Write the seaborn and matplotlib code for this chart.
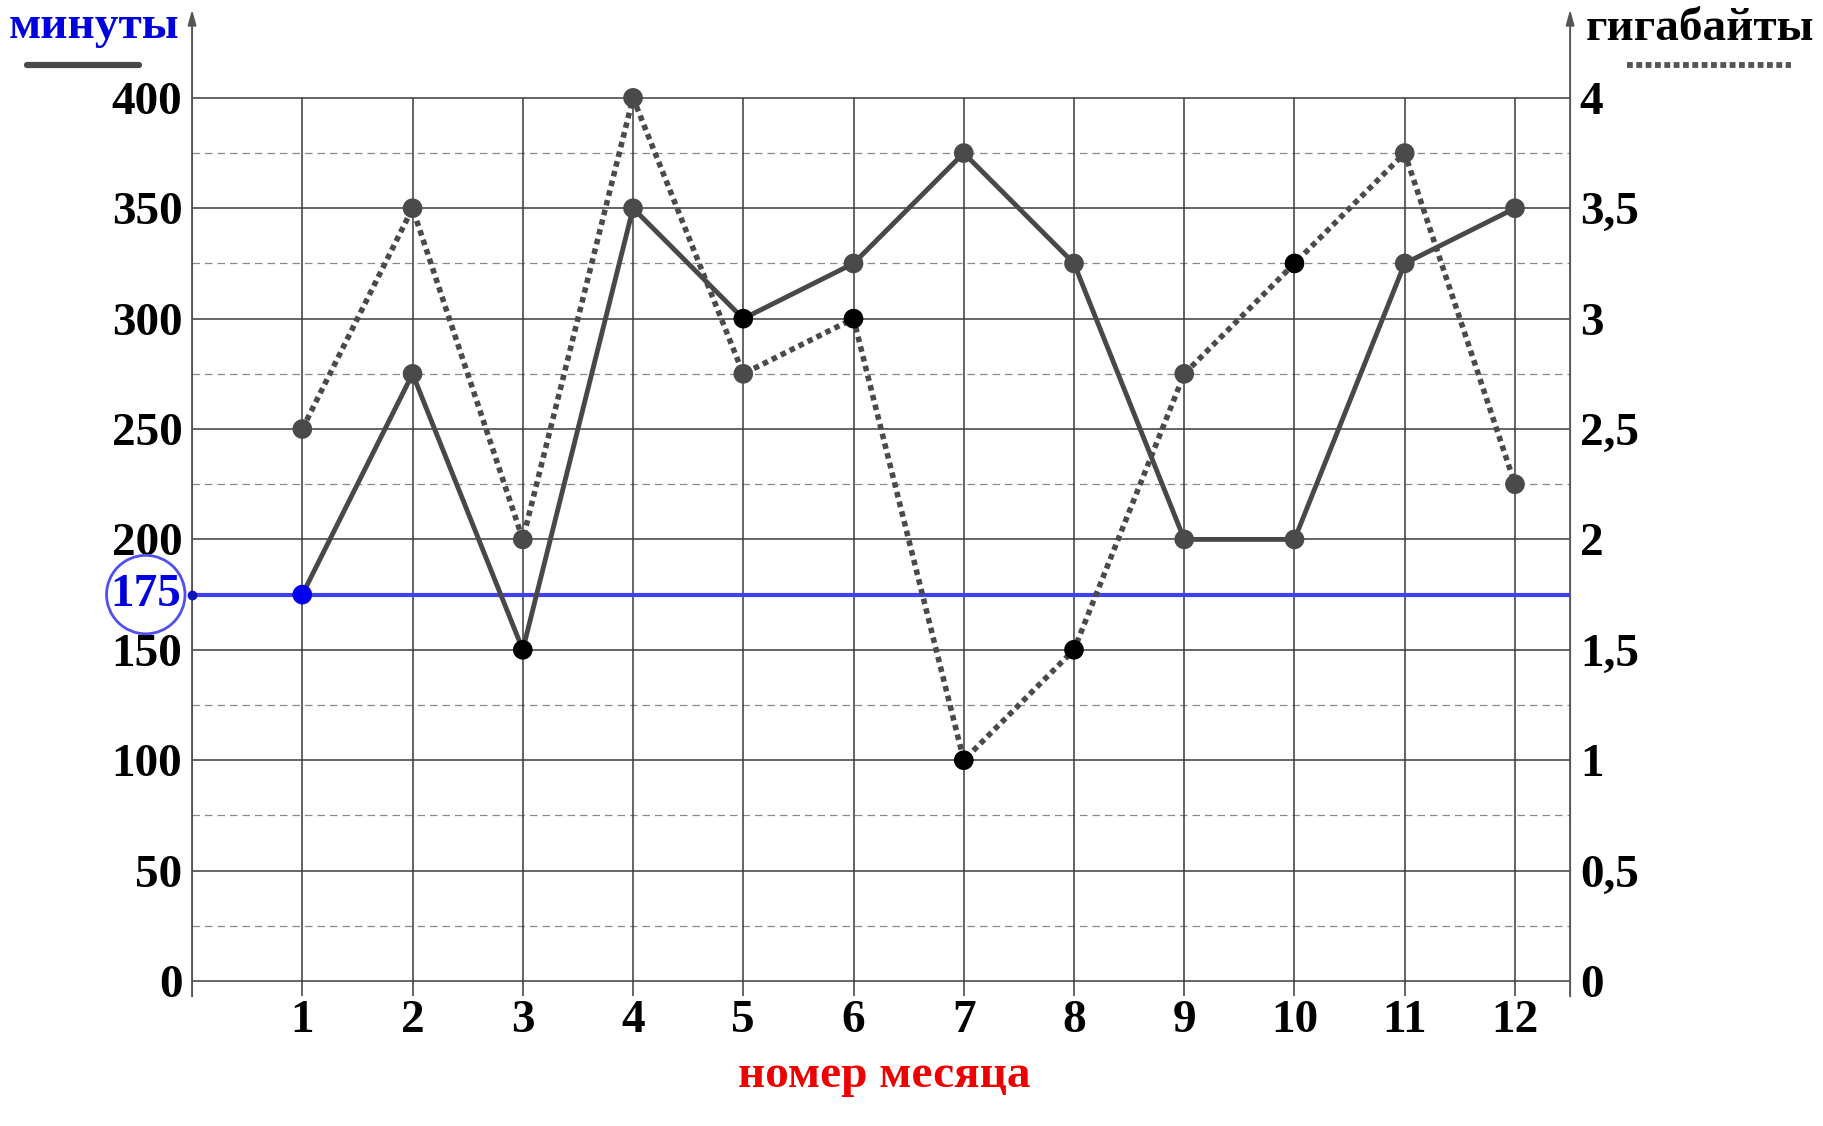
import pandas as pd
import matplotlib.pyplot as plt
import seaborn as sns

# данные
months = [1, 2, 3, 4, 5, 6, 7, 8, 9, 10, 11, 12]
minutes = [175, 275, 150, 350, 300, 325, 375, 325, 200, 200, 325, 350]
gigabytes = [2.5, 3.5, 2.0, 4.0, 2.75, 3.0, 1.0, 1.5, 2.75, 3.25, 3.75, 2.25]
min_black = [3, 5]           # месяцы с чёрной точкой (минуты)
gb_black = [6, 7, 8, 10]     # месяцы с чёрной точкой (гигабайты)
limit = 175
min_ticks = [0, 50, 100, 150, 200, 250, 300, 350, 400]
min_half = [25, 75, 125, 175, 225, 275, 325, 375]
gb_ticks = [0, 0.5, 1, 1.5, 2, 2.5, 3, 3.5, 4]
gb_labels = ['0', '0,5', '1', '1,5', '2', '2,5', '3', '3,5', '4']

sns.set_style("white")
plt.rcParams['font.family'] = ['Liberation Serif', 'DejaVu Serif']
plt.rcParams['font.weight'] = 'bold'

GRID = '#3a3a3a'
LINE = '#484848'
FS = 34

fig = plt.figure(figsize=(18.24, 11.26), dpi=100)
ax = fig.add_axes([0.1053, 0.1092, 0.7555, 0.8784])
ax.set_xlim(0, 12.5)
ax.set_ylim(-10, 438)
for s in ax.spines.values():
    s.set_visible(False)

# сетка
ax.hlines(min_ticks, 0, 12.5, color=GRID, lw=1.1, zorder=1)
ax.hlines(min_half, 0, 12.5, color='#8a8a8a', lw=0.9, linestyles=(0, (6, 4)), zorder=1)
ax.vlines(months, -7, 400, color=GRID, lw=1.1, zorder=1)
# оси со стрелками
for xx in [0, 12.5]:
    ax.annotate('', xy=(xx, 440), xytext=(xx, -7), annotation_clip=False,
                arrowprops=dict(arrowstyle='-|>,head_length=0.9,head_width=0.25',
                                color='#555555', lw=1.4, shrinkA=0, shrinkB=0))

# линия 175
ax.hlines(limit, 0, 12.5, color='#4040f0', lw=3, zorder=2)
ax.plot([0], [limit], 'o', color='#1010c0', ms=6, clip_on=False, zorder=5)

ax2 = ax.twinx()
ax2.set_ylim(ax.get_ylim()[0] / 100, ax.get_ylim()[1] / 100)
for s in ax2.spines.values():
    s.set_visible(False)

sns.lineplot(x=months, y=minutes, ax=ax, color=LINE, linewidth=3.5, zorder=3)
sns.lineplot(x=months, y=gigabytes, ax=ax2, color='#4a4a4a', linewidth=4,
             linestyle=(0, (1, 0.8)), zorder=3)

df_min = pd.DataFrame({'m': months, 'v': minutes})
df_min['c'] = ['blue' if v == limit else ('black' if m in min_black else 'gray')
               for m, v in zip(months, minutes)]
df_gb = pd.DataFrame({'m': months, 'v': gigabytes})
df_gb['c'] = ['black' if m in gb_black else 'gray' for m in months]
pal = {'gray': '#4a4a4a', 'black': '#000000', 'blue': '#0000ee'}
sns.scatterplot(data=df_min, x='m', y='v', hue='c', palette=pal, s=200,
                linewidth=0, legend=False, ax=ax, zorder=4)
sns.scatterplot(data=df_gb, x='m', y='v', hue='c', palette=pal, s=200,
                linewidth=0, legend=False, ax=ax2, zorder=4)

# подписи осей
ax.set_xticks(months)
ax.set_xticklabels([str(m) for m in months], fontsize=FS, fontweight='bold')
ax.set_yticks(min_ticks)
ax.set_yticklabels([str(v) for v in min_ticks], fontsize=FS, fontweight='bold')
ax.tick_params(axis='x', length=0, pad=-2, labelcolor='black')
ax.tick_params(axis='y', length=0, pad=7, labelcolor='black')
ax2.set_yticks(gb_ticks)
ax2.set_yticklabels(gb_labels, fontsize=FS, fontweight='bold')
ax2.tick_params(axis='y', length=0, pad=7, labelcolor='black')
ax.set_xlabel('')
ax.set_ylabel('')
ax2.set_ylabel('')

# 175 в кружке
ax.text(-0.42, limit, str(limit), color='#0000e0', fontsize=FS, fontweight='bold',
        ha='center', va='center', clip_on=False, zorder=6,
        bbox=dict(boxstyle='circle,pad=0.08', fc='white', ec='#5050f0', lw=2))

# легенда
ax.text(-0.89, 432, 'минуты', color='#0000e0', fontsize=FS, fontweight='bold',
        ha='center', va='center', clip_on=False)
ax.plot([-1.5, -0.48], [415, 415], color=LINE, lw=4.5, solid_capstyle='round', clip_on=False)
ax.text(13.68, 431, 'гигабайты', color='black', fontsize=FS, fontweight='bold',
        ha='center', va='center', clip_on=False)
ax.plot([13.02, 14.5], [415, 415], color='#555555', lw=4.2, linestyle=(0, (1, 0.6)),
        clip_on=False)
ax.text(6.28, -43, 'номер месяца', color='#ee0000', fontsize=FS, fontweight='bold',
        ha='center', va='center', clip_on=False)

fig.savefig('out.png', dpi=100)
